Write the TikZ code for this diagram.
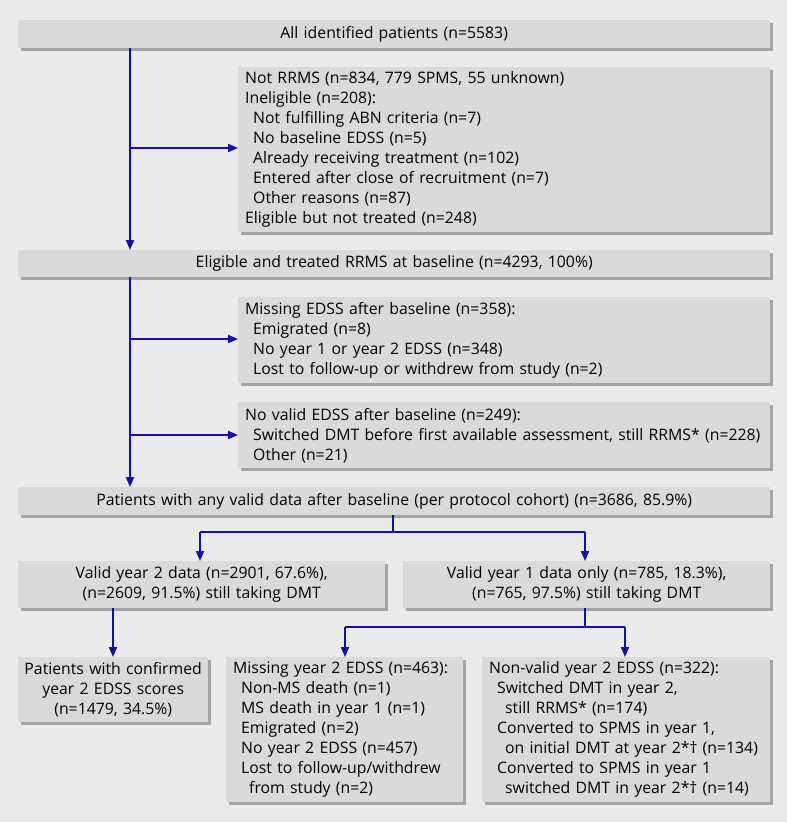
\documentclass[tikz,border=0pt]{standalone}
\usepackage{fontspec}
\setmainfont{Open Sans}
\usetikzlibrary{arrows.meta,shadows}
\definecolor{bg}{RGB}{235,235,235}
\definecolor{boxfill}{RGB}{218,218,218}
\definecolor{shadowgray}{RGB}{165,165,165}
\definecolor{flowblue}{RGB}{15,15,180}
\tikzset{
  box/.style={anchor=north west, fill=boxfill, inner sep=0pt,
    drop shadow={shadow xshift=3pt, shadow yshift=-3pt, fill=shadowgray, opacity=1},
    font=\fontsize{15.8}{20}\selectfont},
  lbox/.style={box, align=left},
  cbox/.style={box, align=center},
  arr/.style={draw=flowblue, line width=1.8pt, -{Triangle[length=10pt,width=8pt]}},
  ln/.style={draw=flowblue, line width=1.8pt}
}
\newcommand{\ind}{\hspace*{8pt}}
\newcommand{\indd}{\hspace*{16pt}}
\begin{document}
\begin{tikzpicture}[x=1pt,y=-1pt]
\useasboundingbox (0,0) rectangle (787,822);
\fill[bg] (0,0) rectangle (787,822);
\node[cbox, minimum width=752pt, minimum height=28pt, text width=738pt] (b1) at (18,20) {All identified patients (n=5583)};
\node[lbox, minimum width=532pt, minimum height=165pt, text width=518pt] (b2) at (238,67) {Not RRMS (n=834, 779 SPMS, 55 unknown)\\Ineligible (n=208):\\\ind Not fulfilling ABN criteria (n=7)\\\ind No baseline EDSS (n=5)\\\ind Already receiving treatment (n=102)\\\ind Entered after close of recruitment (n=7)\\\ind Other reasons (n=87)\\Eligible but not treated (n=248)};
\node[cbox, minimum width=752pt, minimum height=27pt, text width=738pt] (b3) at (18,250) {Eligible and treated RRMS at baseline (n=4293, 100\%)};
\node[lbox, minimum width=532pt, minimum height=86pt, text width=518pt] (b4) at (238,297) {Missing EDSS after baseline (n=358):\\\ind Emigrated (n=8)\\\ind No year 1 or year 2 EDSS (n=348)\\\ind Lost to follow-up or withdrew from study (n=2)};
\node[lbox, minimum width=532pt, minimum height=66pt, text width=518pt] (b5) at (238,402) {No valid EDSS after baseline (n=249):\\\ind \mbox{Switched DMT before first available assessment, still RRMS* (n=228)}\\\ind Other (n=21)};
\node[cbox, minimum width=752pt, minimum height=28pt, text width=738pt] (b6) at (18,487) {Patients with any valid data after baseline (per protocol cohort) (n=3686, 85.9\%)};
\node[cbox, minimum width=367pt, minimum height=47pt, text width=353pt] (b7) at (18,561) {Valid year 2 data (n=2901, 67.6\%),\\(n=2609, 91.5\%) still taking DMT};
\node[cbox, minimum width=367pt, minimum height=47pt, text width=353pt] (b8) at (403,561) {Valid year 1 data only (n=785, 18.3\%),\\(n=765, 97.5\%) still taking DMT};
\node[cbox, minimum width=190pt, minimum height=65pt, text width=184pt] (b9) at (18,657) {Patients with confirmed\\year 2 EDSS scores\\(n=1479, 34.5\%)};
\node[lbox, minimum width=237pt, minimum height=145pt, text width=223pt] (b10) at (226,657) {Missing year 2 EDSS (n=463):\\\ind Non-MS death (n=1)\\\ind MS death in year 1 (n=1)\\\ind Emigrated (n=2)\\\ind No year 2 EDSS (n=457)\\\ind \mbox{Lost to follow-up/withdrew}\\\indd from study (n=2)};
\node[lbox, minimum width=288pt, minimum height=145pt, text width=274pt] (b11) at (482,657) {Non-valid year 2 EDSS (n=322):\\\ind Switched DMT in year 2,\\\indd still RRMS* (n=174)\\\ind Converted to SPMS in year 1,\\\indd \mbox{on initial DMT at year 2*\textdagger\ (n=134)}\\\ind Converted to SPMS in year 1\\\indd \mbox{switched DMT in year 2*\textdagger\ (n=14)}};
% trunk 1
\coordinate (j1) at (130,148);
\coordinate (j2) at (130,339);
\coordinate (j3) at (130,435);
\draw[arr] (b1.south -| 130,0) -- (b3.north -| 130,0);
\draw[arr] (j1) -- (b2.west |- j1);
\draw[arr] (b3.south -| 130,0) -- (b6.north -| 130,0);
\draw[arr] (j2) -- (b4.west |- j2);
\draw[arr] (j3) -- (b5.west |- j3);
% split after b6
\coordinate (s1) at (393,532);
\coordinate (s1l) at (200,532);
\coordinate (s1r) at (585,532);
\draw[ln] (b6.south -| s1) -- (s1);
\draw[ln] (s1l) -- (s1r);
\draw[arr] (s1l) -- (b7.north -| s1l);
\draw[arr] (s1r) -- (b8.north -| s1r);
% b7 -> b9
\draw[arr] (b7.south -| 113,0) -- (b9.north -| 113,0);
% split after b8
\coordinate (s2) at (585,627);
\coordinate (s2l) at (345,627);
\coordinate (s2r) at (625,627);
\draw[ln] (b8.south -| s2) -- (s2);
\draw[ln] (s2l) -- (s2r);
\draw[arr] (s2l) -- (b10.north -| s2l);
\draw[arr] (s2r) -- (b11.north -| s2r);
\end{tikzpicture}
\end{document}
